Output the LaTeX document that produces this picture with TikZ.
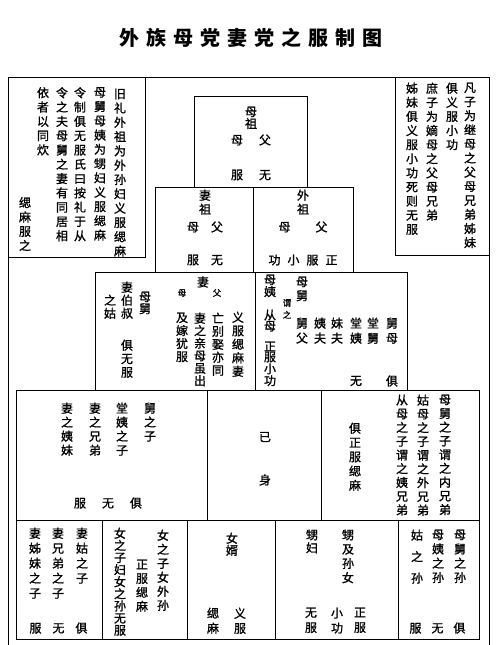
\documentclass[tikz,border=0pt]{standalone}
\usepackage{fontspec}
\setmainfont{Noto Sans CJK SC}
\newfontfamily\bodyfont{Noto Sans CJK SC}[FakeBold=1.2]
\XeTeXlinebreaklocale "zh"
\XeTeXlinebreakskip=0pt plus 1pt
\setlength{\parindent}{0pt}

\begin{document}
\begin{tikzpicture}[x=1pt,y=-1pt,
    vcol/.style={anchor=north,inner sep=0pt,text width=13pt,align=center,font=\bodyfont\fontsize{12}{#1}\selectfont},
    vcol/.default=14.3,
    svcol/.style={vcol,font=\bodyfont\fontsize{8.5}{12}\selectfont},
    hz/.style={inner sep=0pt,font=\bodyfont\fontsize{12}{14}\selectfont},
    small/.style={inner sep=0pt,font=\bodyfont\fontsize{8.5}{10}\selectfont},
    box/.style={line width=1pt}]
    \useasboundingbox (0,0) rectangle (500,645);

    \node [font=\fontsize{20}{20}\selectfont\bfseries\addfontfeatures{LetterSpace=35}] (title) at (251,38) {外族母党妻党之服制图};

    % frames
    \draw [box] (8,645) -- (8,77) -- (489,77) -- (489,645);
    \draw [box] (8,77) rectangle (145,257);
    \draw [box] (395,77) rectangle (489,255);
    \draw [box] (194,96) rectangle (307,187);
    \draw [box] (155,187) rectangle (353,272);
    \draw [box] (253,187) -- (253,272);
    \draw [box] (95,272) rectangle (407,390);
    \draw [box] (255,272) -- (255,390);
    \draw [box] (16,390) rectangle (479,520);
    \draw [box] (207,390) -- (207,520);
    \draw [box] (321,390) -- (321,520);
    \draw [box] (16,520) rectangle (479,639);
    \foreach \x in {102,187,275,398}
        \draw [box] (\x,520) -- (\x,639);

    % left note
    \node [vcol] (l1) at (120,88.5) {旧礼外祖为外孙妇义服缌麻};
    \node [vcol] (l2) at (100,87) {母舅母姨为甥妇义服缌麻};
    \node [vcol] (l3) at (80,87) {令制俱无服氏曰按礼于从};
    \node [vcol] (l4) at (62,87) {令之夫母舅之妻有同居相};
    \node [vcol] (l5) at (43,87) {依者以同炊};
    \node [vcol] (l6) at (25,197) {缌麻服之};

    % right note
    \node [vcol=14.1] (r1) at (470,82.5) {凡子为继母之父母兄弟姊妹};
    \node [vcol=14.1] (r2) at (452,82.5) {俱义服小功};
    \node [vcol=14.1] (r3) at (432,82.5) {庶子为嫡母之父母兄弟};
    \node [vcol=14.1] (r4) at (412,82.5) {姊妹俱义服小功死则无服};

    % grandparents
    \node [vcol=12] (zu) at (251,106.5) {母祖};
    \node [hz] (zufm) at (251,140) {母\hspace{16pt}父};
    \node [hz] (zuwf) at (251,175) {服\hspace{16pt}无};

    \node [vcol=14] (qizu) at (205,189.5) {妻祖};
    \node [hz] (qifm) at (205,227) {母\hspace{12pt}父};
    \node [hz] (qiwf) at (205,260) {服\hspace{12pt}无};
    \node [vcol=14] (waizu) at (303,189.5) {外祖};
    \node [hz] (waifm) at (303,227) {母\hspace{25pt}父};
    \node [hz] (waixg) at (303,260) {功\hspace{7pt}小\hspace{7pt}服\hspace{7pt}正};

    % parents
    \node [vcol=12] (mj1) at (145,291.5) {母舅};
    \node [vcol=13] (qbs) at (127,281.5) {妻伯叔};
    \node [vcol=13] (zg) at (110,294.5) {之姑};
    \node [vcol=13.5] (jwf1) at (127,339.5) {俱无服};
    \node [hz] (qi) at (203,282) {妻};
    \node [small] (qim) at (182,293) {母};
    \node [small] (qif) at (217,293) {父};
    \node [vcol=13] (jjy) at (182,312.5) {及嫁犹服};
    \node [vcol=12.5] (qzq) at (200,312.5) {妻之亲母虽出};
    \node [vcol=13] (wbq) at (218,312.5) {亡别娶亦同};
    \node [vcol=13.5] (yfs) at (238,311.5) {义服缌麻妻};

    \node [vcol=12] (my) at (270,274.5) {母姨};
    \node [vcol=11] (cm) at (270,309.5) {从母};
    \node [vcol=10.5] (zfxg) at (270,341.5) {正服小功};
    \node [svcol] (wz) at (287,299) {谓之};
    \node [vcol=14] (mj2) at (302,276.5) {母舅};
    \node [vcol=15] (jf) at (302,317.5) {舅父};
    \node [vcol=15] (yf) at (320,317.5) {姨夫};
    \node [vcol=15] (mf) at (337,317.5) {妹夫};
    \node [vcol=15] (ty) at (356,317.5) {堂姨};
    \node [vcol=15] (tj) at (373,317.5) {堂舅};
    \node [vcol=15] (jm) at (392,317.5) {舅母};
    \node [hz] (w3) at (356,381) {无};
    \node [hz] (j3) at (392,381) {俱};

    % own generation
    \node [vcol=14] (jzz) at (150,402.5) {舅之子};
    \node [vcol=14] (tyzz) at (122,402.5) {堂姨之子};
    \node [vcol=14] (qzxd) at (95,402.5) {妻之兄弟};
    \node [vcol=14] (qzym) at (67,402.5) {妻之姨妹};
    \node [hz] (r4a) at (108,503) {服\hspace{16pt}无\hspace{16pt}俱};

    \node [hz] (ji) at (265,437) {已};
    \node [hz] (shen) at (265,480) {身};

    \node [vcol=14.3] (jzf) at (355,422.5) {俱正服缌麻};
    \node [vcol=13.75] (nxd) at (445,394.5) {母舅之子谓之内兄弟};
    \node [vcol=13.75] (wxd) at (423,394.5) {姑母之子谓之外兄弟};
    \node [vcol=13.75] (yxd) at (402,394.5) {从母之子谓之姨兄弟};

    % children
    \node [vcol=15] (qgzz) at (82,527.5) {妻姑之子};
    \node [vcol=15] (qxdzz) at (58,527.5) {妻兄弟之子};
    \node [vcol=15] (qzmzz) at (35,527.5) {妻姊妹之子};
    \node [hz] (r5a) at (58.5,628) {服\hspace{11pt}无\hspace{11pt}俱};

    \node [vcol=14] (nzzn) at (163,529.5) {女之子女外孙};
    \node [vcol=14] (zfsm) at (142,559.5) {正服缌麻};
    \node [vcol=12.1] (nzzf) at (120,527.5) {女之子妇女之孙无服};

    \node [vcol=12] (nx) at (232,532.5) {女婿};
    \node [vcol=15] (sm5) at (213,607.5) {缌麻};
    \node [vcol=15] (yf5) at (240,607.5) {义服};

    \node [vcol=13] (sf) at (312,529.5) {甥妇};
    \node [vcol=14.3] (sjsn) at (348,529.5) {甥及孙女};
    \node [vcol=15] (wf5) at (311,607.5) {无服};
    \node [vcol=15] (xg5) at (337,607.5) {小功};
    \node [vcol=15] (zf5) at (360,607.5) {正服};

    \node [vcol=14.3] (mjzs) at (460,529.5) {母舅之孙};
    \node [vcol=14.3] (myzs) at (438,529.5) {母姨之孙};
    \node [vcol=21.5] (gzs) at (417,529.5) {姑之孙};
    \node [hz] (r5b) at (437.5,628) {服\hspace{10pt}无\hspace{10pt}俱};
\end{tikzpicture}
\end{document}
